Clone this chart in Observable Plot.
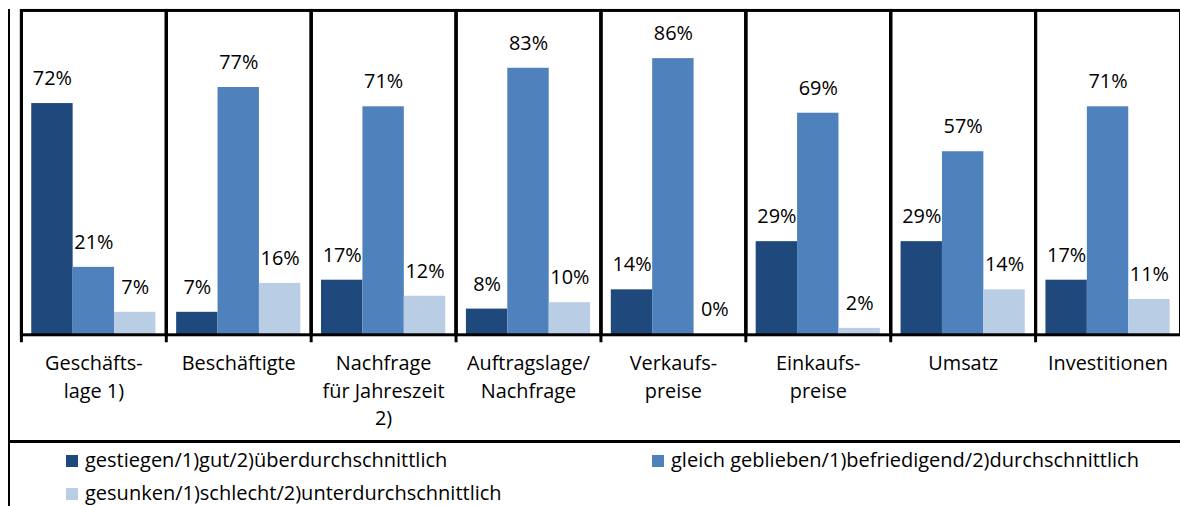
<!DOCTYPE html>
<html><head><meta charset="utf-8">
<script src="https://cdn.jsdelivr.net/npm/d3@7"></script>
<script src="https://cdn.jsdelivr.net/npm/@observablehq/plot@0.6"></script>
<style>
html,body{margin:0;padding:0;background:#fff;overflow:hidden;width:1180px;height:506px;}
#wrap{position:relative;width:1180px;height:506px;overflow:hidden;font-family:"Open Sans",sans-serif;}
#chart{position:absolute;left:0;top:0;}
.line{position:absolute;background:#000;}
.leg{position:absolute;font-size:20px;line-height:22px;color:#000;white-space:nowrap;}
.sw{display:inline-block;width:12px;height:12px;margin-right:7px;vertical-align:0px;}
</style></head>
<body><div id="wrap"><div id="chart"></div></div>
<script>
const categories = ["Geschäfts-\nlage 1)", "Beschäftigte", "Nachfrage\nfür Jahreszeit\n2)", "Auftragslage/\nNachfrage", "Verkaufs-\npreise", "Einkaufs-\npreise", "Umsatz", "Investitionen"];
const series = ["gestiegen/1)gut/2)überdurchschnittlich", "gleich geblieben/1)befriedigend/2)durchschnittlich", "gesunken/1)schlecht/2)unterdurchschnittlich"];
const gestiegen = [72, 7, 17, 8, 14, 29, 29, 17];
const gleich = [21, 77, 71, 83, 86, 69, 57, 71];
const gesunken = [7, 16, 12, 10, 0, 2, 14, 11];
const colors = ["#1F497D", "#4F81BD", "#B9CDE5"];

const values = [gestiegen, gleich, gesunken];
const data = [];
categories.forEach((c, i) => series.forEach((s, j) => data.push({cat: c, series: s, value: values[j][i]})));

const chart = Plot.plot({
  width: 1186, height: 440,
  marginTop: 10, marginLeft: 21, marginRight: 0, marginBottom: 104,
  style: {fontFamily: "Open Sans", fontSize: "20px", color: "#000", background: "transparent"},
  fx: {domain: categories, padding: 0, round: false, label: null, axis: null},
  x: {domain: series, paddingInner: 0, paddingOuter: 0.25, round: false, axis: null},
  y: {domain: [0, 101], axis: null},
  color: {domain: series, range: colors},
  marks: [
    Plot.barY(data, {fx: "cat", x: "series", y: "value", fill: "series"}),
    Plot.text(data, {fx: "cat", x: "series", y: "value", text: d => d.value + "%", dy: -25, fontSize: 20, fill: "#000"}),
    Plot.frame({stroke: "#000", strokeWidth: 3}),
    Plot.frame({anchor: "left", stroke: "#000", strokeWidth: 3, insetBottom: -6}),
    Plot.axisFx({anchor: "bottom", tickSize: 0, tickPadding: 16, fontSize: 20, lineHeight: 1.38, label: null, fill: "#000"})
  ]
});
document.getElementById("chart").appendChild(chart);

const wrap = document.getElementById("wrap");
function line(l, t, w, h) { const d = document.createElement("div"); d.className = "line"; Object.assign(d.style, {left: l + "px", top: t + "px", width: w + "px", height: h + "px"}); wrap.appendChild(d); }
line(8, 9, 2, 497);
line(8, 440, 1172, 3);
const legPos = [[66, 449], [652, 449], [66, 482]];
series.forEach((s, i) => {
  const d = document.createElement("div");
  d.className = "leg";
  d.style.left = legPos[i][0] + "px"; d.style.top = legPos[i][1] + "px";
  d.innerHTML = `<span class="sw" style="background:${colors[i]}"></span>${s}`;
  wrap.appendChild(d);
});
</script></body></html>
